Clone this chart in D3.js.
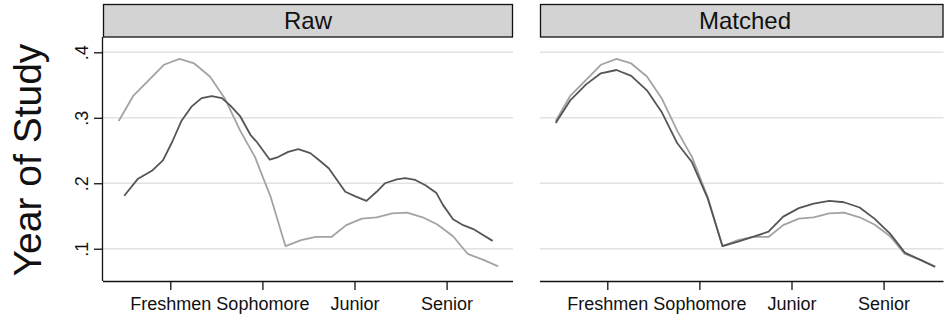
<!DOCTYPE html>
<html>
<head>
<meta charset="utf-8">
<script src="https://cdn.jsdelivr.net/npm/d3@7"></script>
<style>
  html, body { margin: 0; padding: 0; background: #fff; }
  svg { display: block; font-family: "Liberation Sans", Arial, Helvetica, sans-serif; }
</style>
</head>
<body>
<svg id="chart" width="944" height="320"></svg>
<script>
// Year of study on the x axis: 1 = Freshmen ... 4 = Senior
const yearTicks = [1, 2, 3, 4];
const yearLabels = ["Freshmen", "Sophomore", "Junior", "Senior"];
const yTicks = [0.1, 0.2, 0.3, 0.4];
const yTickLabels = [".1", ".2", ".3", ".4"];
const panelTitles = ["Raw", "Matched"];

// Evaluation grid shared by the treated curve and the matched control curve
const gridX = [0.44, 0.60, 0.77, 0.93, 1.10, 1.26, 1.43, 1.59, 1.76, 1.92, 2.09, 2.25, 2.42,
               2.58, 2.75, 2.91, 3.08, 3.24, 3.41, 3.57, 3.74, 3.90, 4.07, 4.23, 4.40, 4.56];
const treated = [0.295, 0.334, 0.358, 0.381, 0.390, 0.383, 0.363, 0.330, 0.280, 0.240, 0.179, 0.104, 0.113,
                 0.118, 0.118, 0.136, 0.146, 0.148, 0.154, 0.155, 0.148, 0.137, 0.119, 0.092, 0.083, 0.073];
const controlMatched = [0.292, 0.327, 0.351, 0.368, 0.373, 0.364, 0.342, 0.309, 0.261, 0.232, 0.177, 0.104, 0.111,
                        0.118, 0.126, 0.149, 0.162, 0.169, 0.173, 0.171, 0.163, 0.146, 0.123, 0.094, 0.083, 0.072];

// Unmatched control curve
const controlRawX = [0.50, 0.65, 0.80, 0.92, 1.02, 1.12, 1.23, 1.34, 1.45, 1.56, 1.65, 1.76, 1.87, 1.94,
                     2.08, 2.17, 2.28, 2.39, 2.52, 2.61, 2.72, 2.90, 3.01, 3.13, 3.24, 3.33, 3.46, 3.55,
                     3.66, 3.77, 3.89, 3.96, 4.07, 4.18, 4.29, 4.36, 4.50];
const controlRaw = [0.181, 0.207, 0.219, 0.235, 0.263, 0.295, 0.317, 0.330, 0.333, 0.330, 0.319, 0.302, 0.274, 0.263,
                    0.236, 0.240, 0.248, 0.252, 0.246, 0.236, 0.223, 0.187, 0.180, 0.173, 0.187, 0.200, 0.206, 0.208,
                    0.205, 0.197, 0.185, 0.167, 0.145, 0.136, 0.130, 0.124, 0.112];

const zip = (xs, ys) => xs.map((x, i) => ({ x, y: ys[i] }));

const panels = [
  { title: panelTitles[0], left: 103, series: [
      { pts: zip(gridX, treated), color: "#a3a3a3" },
      { pts: zip(controlRawX, controlRaw), color: "#555555" } ] },
  { title: panelTitles[1], left: 540, series: [
      { pts: zip(gridX, treated), color: "#a3a3a3" },
      { pts: zip(gridX, controlMatched), color: "#555555" } ] }
];

const W = 944, panelW = 410;
const plotTop = 37, plotBottom = 281, headTop = 4.5;
const xDomain = [0.2693, 4.721];
const y = d3.scaleLinear().domain([0.0507, 0.4234]).range([plotBottom, plotTop]);

const svg = d3.select("#chart");

panels.forEach((p, pi) => {
  const right = p.left + panelW;
  const visRight = Math.min(right, W - 0.5);
  const x = d3.scaleLinear().domain(xDomain).range([p.left, right]);
  const g = svg.append("g");

  // header strip
  g.append("rect")
    .attr("x", p.left + 0.5).attr("y", headTop)
    .attr("width", visRight - p.left - 1).attr("height", plotTop - headTop)
    .attr("fill", "#d3d3d3").attr("stroke", "#111").attr("stroke-width", 1.3);
  g.append("text")
    .attr("x", (p.left + right) / 2).attr("y", 28.5)
    .attr("text-anchor", "middle").attr("font-size", 24).attr("fill", "#111")
    .text(p.title);

  // horizontal gridlines
  g.selectAll("line.grid").data(yTicks).join("line")
    .attr("class", "grid")
    .attr("x1", p.left).attr("x2", visRight)
    .attr("y1", d => y(d)).attr("y2", d => y(d))
    .attr("stroke", "#e2e2e2").attr("stroke-width", 1.5);

  // x axis
  const xAxis = d3.axisBottom(x).tickValues(yearTicks)
    .tickFormat((d, i) => yearLabels[i]).tickSize(9).tickSizeOuter(0).tickPadding(6);
  const xa = g.append("g").attr("transform", `translate(0,${plotBottom})`).call(xAxis);
  xa.select(".domain").attr("d", `M${p.left},0.5H${visRight}`).attr("stroke", "#111").attr("stroke-width", 1.3);
  xa.selectAll(".tick line").attr("stroke", "#111").attr("stroke-width", 1.3);
  xa.selectAll(".tick text").attr("font-size", 18).attr("fill", "#111")
    .attr("font-family", "\"Liberation Sans\", Arial, Helvetica, sans-serif")
    .attr("dy", "0.75em");

  // y axis only on the first panel
  if (pi === 0) {
    const yAxis = d3.axisLeft(y).tickValues(yTicks)
      .tickFormat((d, i) => yTickLabels[i]).tickSize(9).tickSizeOuter(0);
    const ya = g.append("g").attr("transform", `translate(${p.left},0)`).call(yAxis);
    ya.select(".domain").attr("d", `M-0.5,${plotTop}V${plotBottom}`).attr("stroke", "#111").attr("stroke-width", 1.3);
    ya.selectAll(".tick line").attr("stroke", "#111").attr("stroke-width", 1.3);
    ya.selectAll(".tick text")
      .attr("font-size", 18).attr("fill", "#111")
      .attr("font-family", "\"Liberation Sans\", Arial, Helvetica, sans-serif")
      .attr("text-anchor", "middle").attr("dy", 0)
      .attr("x", null)
      .attr("transform", "translate(-15,0) rotate(-90)");
  }

  // curves
  const line = d3.line().x(d => x(d.x)).y(d => y(d.y));
  p.series.forEach(s => {
    g.append("path").datum(s.pts)
      .attr("d", line).attr("fill", "none")
      .attr("stroke", s.color).attr("stroke-width", 1.8)
      .attr("stroke-linejoin", "round");
  });
});

// y axis title
svg.append("text")
  .attr("transform", `translate(41,${(plotTop + plotBottom) / 2 + 1}) rotate(-90)`)
  .attr("text-anchor", "middle").attr("font-size", 39).attr("fill", "#111")
  .text("Year of Study");
</script>
</body>
</html>
